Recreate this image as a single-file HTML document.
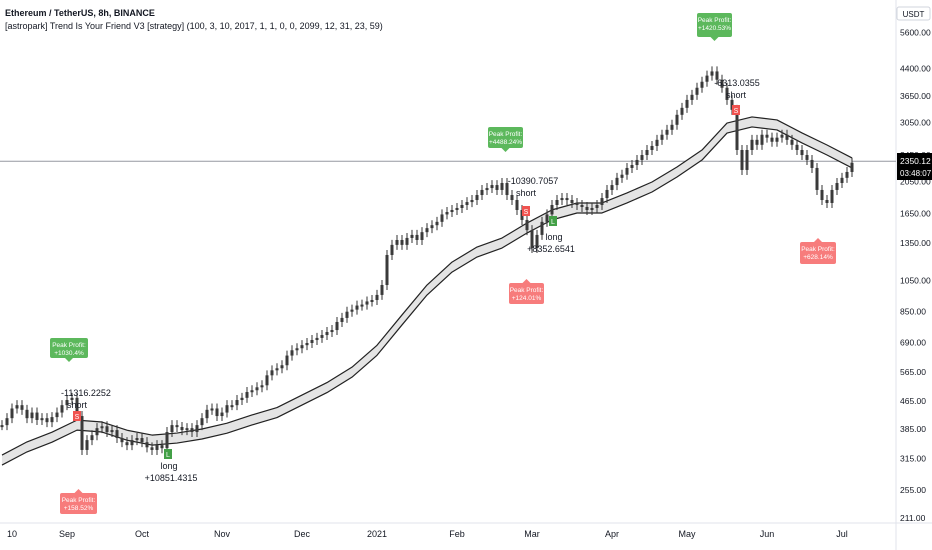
<!DOCTYPE html>
<html><head><meta charset="utf-8"><style>
body{margin:0;background:#fff;font-family:"Liberation Sans",sans-serif;}
svg{display:block}
text{font-family:"Liberation Sans",sans-serif;}
</style></head><body>
<svg id="chart" width="932" height="550" viewBox="0 0 932 550" xmlns="http://www.w3.org/2000/svg">
<rect x="0" y="0" width="932" height="550" fill="#fff"/>
<text x="5" y="16" font-size="9" font-weight="bold" fill="#131722">Ethereum / TetherUS, 8h, BINANCE</text>
<text x="5" y="29" font-size="9" fill="#131722">[astropark] Trend Is Your Friend V3 [strategy] (100, 3, 10, 2017, 1, 1, 0, 0, 2099, 12, 31, 23, 59)</text>
<line x1="896" y1="0" x2="896" y2="550" stroke="#e0e3eb"/>
<line x1="0" y1="523" x2="932" y2="523" stroke="#e0e3eb"/>
<g id="yaxis"></g>
<g id="xaxis"></g>
<line x1="0" y1="162" x2="896" y2="162" stroke="#9598a1" stroke-width="1" id="curline"/>
<g id="band"></g>
<g id="candles"></g>
<g id="ann"></g>
<rect x="897" y="7" width="33" height="13" rx="2" fill="#fff" stroke="#d1d4dc"/>
<text x="913.5" y="17" font-size="8" text-anchor="middle" fill="#131722">USDT</text>
<g>
<rect x="897" y="153" width="35" height="27" fill="#000"/>
<text x="900" y="164" font-size="8.5" fill="#fff">2350.12</text>
<text x="900" y="176" font-size="8" fill="#fff">03:48:07</text>
</g>
</svg>
<script>
const closes=[395,414,442,452,438,414,430,409,414,403,417,430,452,468,475,420,334,357,369,387,392,377,382,362,352,345,357,362,352,340,334,345,338,377,395,390,382,387,377,395,414,438,442,420,430,452,452,468,475,494,500,510,517,553,572,580,592,632,655,664,678,688,702,712,726,741,751,793,815,850,862,886,892,911,920,952,1018,1247,1335,1380,1335,1399,1428,1380,1455,1495,1525,1560,1640,1667,1690,1713,1748,1783,1808,1870,1935,1960,2000,1935,2028,1870,1808,1690,1580,1475,1307,1428,1560,1640,1748,1808,1832,1808,1772,1748,1725,1690,1713,1748,1832,1935,2000,2100,2145,2245,2290,2370,2450,2535,2605,2715,2810,2905,3005,3215,3370,3555,3680,3860,4020,4190,4310,4075,3860,3555,3325,2535,2215,2535,2715,2625,2810,2755,2680,2755,2810,2715,2625,2535,2450,2370,2245,1935,1808,1772,1935,2028,2100,2185,2325];
const maIdx=[0,5,10,15,20,25,30,35,40,45,50,55,60,65,70,75,80,85,90,95,100,105,110,115,120,125,130,135,140,145,150,155,160,165,170];
const maVals=[312,341,364,395,390,369,357,362,372,387,409,430,468,509,565,655,804,984,1149,1272,1352,1496,1635,1713,1713,1833,1974,2185,2450,2940,3064,3003,2750,2535,2323];
const priceTicks=[5600,4400,3650,3050,2450,2050,1650,1350,1050,850,690,565,465,385,315,255,211];
const timeLabels=["10","Sep","Oct","Nov","Dec","2021","Feb","Mar","Apr","May","Jun","Jul"];
const timeIdx=[2,13,28,44,60,75,91,106,122,137,153,168];
const lastPrice=2350.12;
const NS="http://www.w3.org/2000/svg";
function yScale(p){return 1310-148*Math.log(p);}
function xScale(i){return 2+i*5;}
function mk(tag,attrs,parent){const e=document.createElementNS(NS,tag);for(const k in attrs)e.setAttribute(k,attrs[k]);parent.appendChild(e);return e;}
const yaxis=document.getElementById('yaxis');
priceTicks.forEach(p=>{const t=mk('text',{x:900,y:yScale(p)+3,'font-size':'8.5',fill:'#131722'},yaxis);t.textContent=p.toFixed(2);

});
const xaxis=document.getElementById('xaxis');
timeLabels.forEach((l,k)=>{const t=mk('text',{x:xScale(timeIdx[k]),y:537,'font-size':'9','text-anchor':'middle',fill:'#131722'},xaxis);t.textContent=l;

});
document.getElementById('curline').setAttribute('y1',yScale(lastPrice));
document.getElementById('curline').setAttribute('y2',yScale(lastPrice));
const band=document.getElementById('band');
const up=maIdx.map((i,k)=>[xScale(i),yScale(maVals[k])-5]);
const lo=maIdx.map((i,k)=>[xScale(i),yScale(maVals[k])+5]);
const poly=up.concat(lo.slice().reverse()).map(p=>p.join(',')).join(' ');
const bf=mk('polygon',{points:poly,fill:'#e4e4e4',stroke:'none'},band);


const bu=mk('polyline',{points:up.map(p=>p.join(',')).join(' '),fill:'none',stroke:'#222','stroke-width':1.2,'stroke-linejoin':'round'},band);


const bl=mk('polyline',{points:lo.map(p=>p.join(',')).join(' '),fill:'none',stroke:'#222','stroke-width':1.2,'stroke-linejoin':'round'},band);


const cg=document.getElementById('candles');
closes.forEach((c,i)=>{const o=i?closes[i-1]:c;const x=xScale(i);const y1=yScale(Math.max(o,c)),y2=yScale(Math.min(o,c));
const w=mk('line',{x1:x,y1:y1-5,x2:x,y2:y2+5,stroke:'#333','stroke-width':1},cg);


const b=mk('rect',{x:x-1.5,y:y1,width:3,height:Math.max(2,y2-y1),fill:'#3a3a3a'},cg);

});
const ann=document.getElementById('ann');
function bubble(x,y,w,h,color,txt,down){const g=mk('g',{},ann);


mk('rect',{x:x,y:y,width:w,height:h,rx:2,fill:color},g);
const cx=x+w/2;
if(down)mk('polygon',{points:`${cx-4},${y+h} ${cx+4},${y+h} ${cx},${y+h+4}`,fill:color},g);
else mk('polygon',{points:`${cx-4},${y} ${cx+4},${y} ${cx},${y-4}`,fill:color},g);
const t1=mk('text',{x:cx,y:y+9,'font-size':'6.5','text-anchor':'middle',fill:'#fff'},g);t1.textContent='Peak Profit:';
const t2=mk('text',{x:cx,y:y+17,'font-size':'6.5','text-anchor':'middle',fill:'#fff'},g);t2.textContent=txt;}
bubble(50,338,38,20,'#5cb85c','+1030.4%',true);
bubble(60,493,37,21,'#f77c7c','+158.52%',false);
bubble(488,127,35,21,'#5cb85c','+4488.24%',true);
bubble(509,283,35,21,'#f77c7c','+124.01%',false);
bubble(697,13,35,24,'#5cb85c','+1420.53%',true);
bubble(800,242,36,22,'#f77c7c','+628.14%',false);
function label(x,y,txt){const t=mk('text',{x:x,y:y,'font-size':'9','text-anchor':'middle',fill:'#131722'},ann);t.textContent=txt;

}
label(86,396,'-11316.2252');label(77,408,'short');
label(169,469,'long');label(171,481,'+10851.4315');
label(533,184,'-10390.7057');label(526,196,'short');
label(554,240,'long');label(551,252,'+8352.6541');
label(737,86,'-6313.0355');label(736,98,'short');
function sig(x,y,color,ch){const r=mk('rect',{x:x,y:y,width:8,height:10,fill:color},ann);


const t=mk('text',{x:x+4,y:y+8,'font-size':'7','text-anchor':'middle',fill:'#fff'},ann);t.textContent=ch;}
sig(73,411,'#f05350','S');sig(164,449,'#43a047','L');
sig(522,206,'#f05350','S');sig(549,216,'#43a047','L');sig(732,105,'#f05350','S');
</script>
</body></html>
